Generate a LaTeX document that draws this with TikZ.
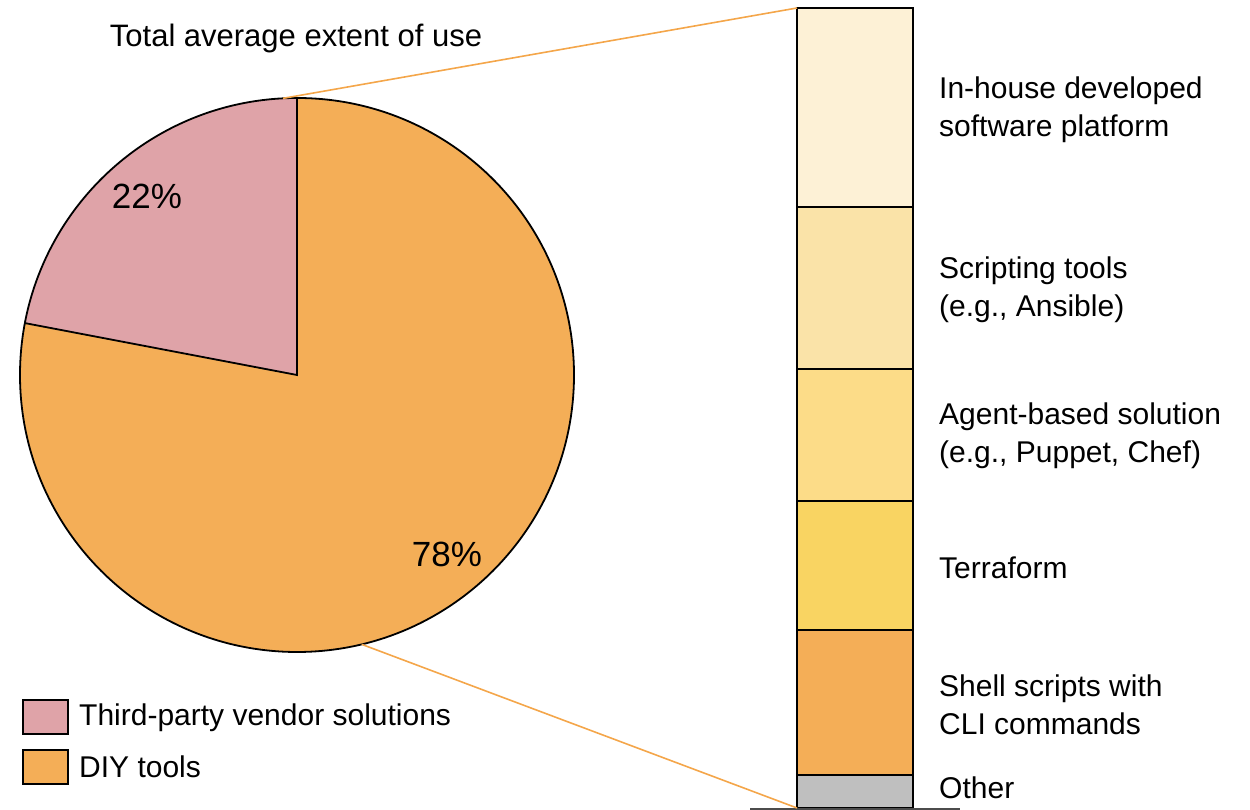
\documentclass[tikz,border=0pt]{standalone}
\usepackage{fontspec}
\setmainfont{Liberation Sans}
\usetikzlibrary{calc}
\definecolor{vendorpink}{HTML}{DFA3A8}
\definecolor{diyorange}{HTML}{F4AE57}
\definecolor{linkorange}{HTML}{F4A64A}
\definecolor{segA}{HTML}{FDF1D6}
\definecolor{segB}{HTML}{FAE3A8}
\definecolor{segC}{HTML}{FCDC88}
\definecolor{segD}{HTML}{F9D462}
\definecolor{segOther}{HTML}{BFBFBF}
\begin{document}
\begin{tikzpicture}[x=1pt,y=1pt,
  txt/.style={font=\fontsize{30}{37.5}\selectfont, inner sep=0pt},
  lbl/.style={txt, anchor=west, align=left},
  pct/.style={font=\fontsize{35}{40}\selectfont, inner sep=0pt},
  seg/.style={draw=black, line width=2pt},
  legbox/.style={draw=black, line width=1.8pt},
  link/.style={draw=linkorange, line width=1.6pt}]
\useasboundingbox (0,0) rectangle (1250,810);

% title
\node[txt, font=\fontsize{31}{37}\selectfont] (title) at (296,772) {Total average extent of use};

% pie chart
\coordinate (pc) at (297,435);
\def\rad{277pt}
\fill[diyorange] (pc) circle[radius=\rad];
\fill[vendorpink] (pc) -- ++(90:\rad) arc[start angle=90, end angle=169.2, radius=\rad] -- cycle;
\draw[line width=1.8pt] (pc) circle[radius=\rad];
\draw[line width=1.8pt] ($(pc)+(169.2:\rad)$) -- (pc) -- ++(90:\rad);
\node[pct] (p22) at (147,614) {22\%};
\node[pct] (p78) at (447,256) {78\%};

% stacked bar
\coordinate (b0) at (797,2);
\coordinate (b1) at (797,35);
\coordinate (b2) at (797,180);
\coordinate (b3) at (797,309);
\coordinate (b4) at (797,441);
\coordinate (b5) at (797,603);
\coordinate (b6) at (797,802);
\draw[seg, fill=segOther] (b0) rectangle (913,35);
\draw[seg, fill=diyorange] (b1) rectangle (913,180);
\draw[seg, fill=segD] (b2) rectangle (913,309);
\draw[seg, fill=segC] (b3) rectangle (913,441);
\draw[seg, fill=segB] (b4) rectangle (913,603);
\draw[seg, fill=segA] (b5) rectangle (913,802);
\draw[line width=1.5pt, draw=black!70] (750,1) -- (960,1);

% bar labels
\node[lbl] (l1) at (939,700) {In-house developed\\software platform};
\node[lbl] (l2) at (939,520) {Scripting tools\\(e.g., Ansible)};
\node[lbl] (l3) at (939,374) {Agent-based solution\\(e.g., Puppet, Chef)};
\node[lbl] (l4) at (939,242) {Terraform};
\node[lbl] (l5) at (939,105) {Shell scripts with\\CLI commands};
\node[lbl] (l6) at (939,22) {Other};

% links from pie to bar
\coordinate (ptop) at ($(pc)+(92.9:\rad)$);
\coordinate (pbot) at ($(pc)+(-76.5:\rad)$);
\draw[link] (ptop) -- (b6);
\draw[link] (pbot) -- (b0);

% legend
\draw[legbox, fill=vendorpink] (23,76) rectangle (68,110);
\draw[legbox, fill=diyorange] (23,26) rectangle (68,60);
\node[lbl] (g1) at (79,92) {Third-party vendor solutions};
\node[lbl] (g2) at (79,43) {DIY tools};
\end{tikzpicture}
\end{document}
